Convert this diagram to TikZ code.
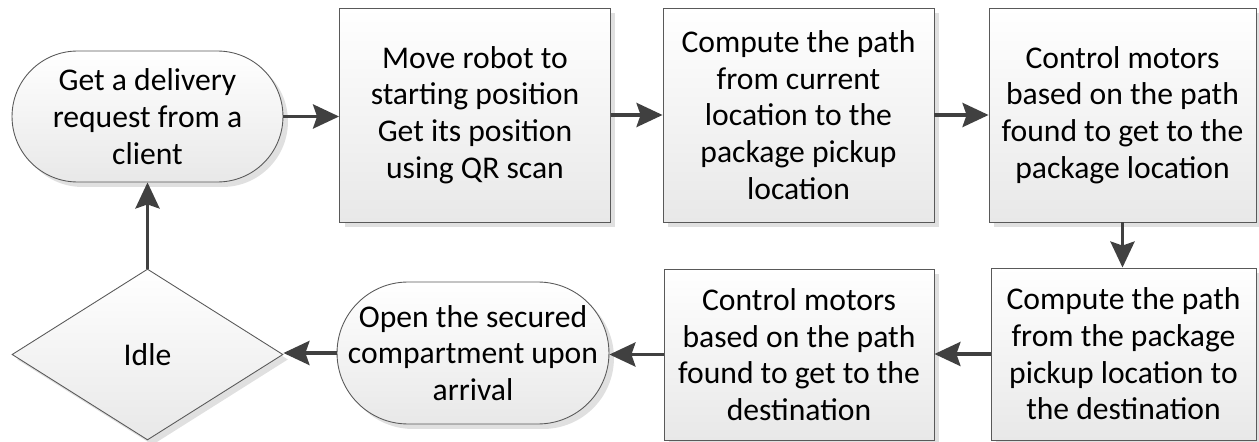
\documentclass[tikz,border=0pt]{standalone}
\usepackage{fontspec}
\setmainfont{Carlito}
\usetikzlibrary{arrows.meta, positioning, shapes.geometric, shadows}
\tikzset{
    stepbox/.style={rectangle, draw=black!65, line width=0.5pt,
                    top color=white, bottom color=black!9,
                    drop shadow={shadow xshift=0.1cm, shadow yshift=-0.1cm,
                                 fill=black!12, opacity=1},
                    align=center, minimum width=5.42cm, minimum height=4.28cm,
                    inner sep=2pt, font=\fontsize{18}{20.9}\selectfont},
    terminal/.style={rectangle, rounded corners=1.31cm, draw=black!65, line width=0.5pt,
                     top color=white, bottom color=black!9,
                     drop shadow={shadow xshift=0.1cm, shadow yshift=-0.1cm,
                                  fill=black!12, opacity=1},
                     align=center, minimum width=5.42cm, minimum height=2.62cm,
                     inner sep=1pt, font=\fontsize{18}{20.9}\selectfont},
    waitstate/.style={diamond, draw=black!65, line width=0.5pt,
                      top color=white, bottom color=black!9,
                      drop shadow={shadow xshift=0.1cm, shadow yshift=-0.1cm,
                                   fill=black!12, opacity=1},
                      align=center, minimum width=5.42cm, minimum height=3.42cm,
                      inner sep=0pt, font=\fontsize{18}{20.9}\selectfont},
    flow/.style={-{Stealth[length=5.2mm, width=4.8mm, inset=0.8mm]},
                 line width=2.2pt, black!75}
}

\begin{document}
\begin{tikzpicture}[x=0.02cm, y=-0.02cm]
    \useasboundingbox (0,0) rectangle (1259,442);
    % top row
    \node[terminal] (get) at (147.5,116.5) {Get a delivery\\request from a\\client};
    \node[stepbox] (move) at (475,115) {Move robot to\\starting position\\Get its position\\using QR scan};
    \node[stepbox] (pathA) at (798.5,115) {Compute the path\\from current\\location to the\\package pickup\\location};
    \node[stepbox, minimum width=5.34cm] (ctrlA) at (1122.5,115) {Control motors\\based on the path\\found to get to the\\package location};
    % bottom row
    \node[stepbox, minimum width=5.3cm, minimum height=3.44cm] (pathB) at (1123.5,354) {Compute the path\\from the package\\pickup location to\\the destination};
    \node[stepbox, minimum width=5.4cm, minimum height=3.42cm] (ctrlB) at (799,354.5) {Control motors\\based on the path\\found to get to the\\destination};
    \node[terminal, rounded corners=1.42cm, minimum width=5.44cm, minimum height=2.84cm] (open) at (473,353) {Open the secured\\compartment upon\\arrival};
    \node[waitstate] (idle) at (147.5,354.5) {Idle};

    \draw[flow] (get.east) -- (get.east -| move.west);
    \draw[flow] (move.east) -- (pathA.west);
    \draw[flow] (pathA.east) -- (ctrlA.west);
    \draw[flow] (ctrlA.south) -- (ctrlA.south |- pathB.north);
    \draw[flow] (pathB.west) -- (pathB.west -| ctrlB.east);
    \draw[flow] (ctrlB.west) -- (ctrlB.west -| open.east);
    \draw[flow] (open.west) -- (open.west -| idle.east);
    \draw[flow] (idle.north) -- (get.south);
\end{tikzpicture}
\end{document}
